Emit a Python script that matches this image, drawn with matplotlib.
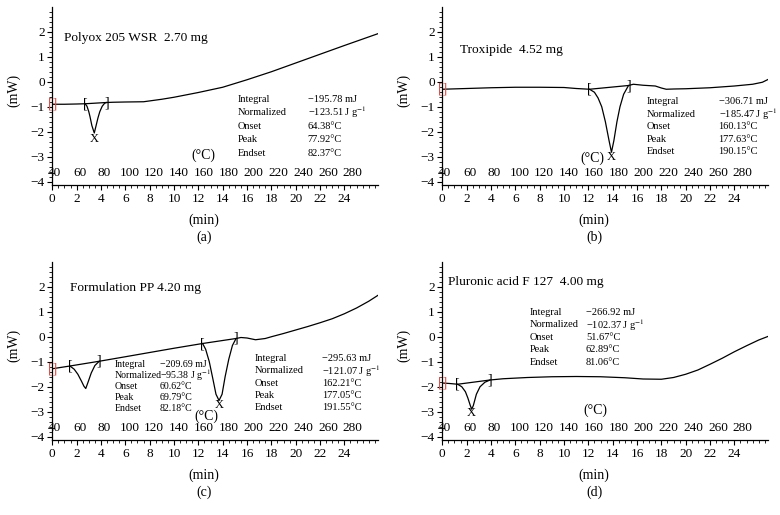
import matplotlib
matplotlib.use("Agg")
import matplotlib.pyplot as plt
from matplotlib.ticker import MultipleLocator

plt.rcParams['font.family'] = ['Liberation Serif', 'DejaVu Serif']
plt.rcParams['mathtext.fontset'] = 'stix'

# ---------------- data ----------------
time_a = [0, 1, 2, 2.7, 2.85, 3.0, 3.1, 3.25, 3.45, 3.6, 3.75, 3.9, 4.1, 4.3, 4.45, 5, 6, 7.5,
          9, 10, 12, 14, 16, 18, 20, 22, 24, 26.8]
mw_a = [-0.9, -0.9, -0.89, -0.88, -0.98, -1.2, -1.4, -1.75, -2.05, -1.75, -1.45, -1.2, -0.98,
        -0.86, -0.83, -0.82, -0.81, -0.8, -0.7, -0.62, -0.43, -0.22, 0.08, 0.4, 0.75, 1.1, 1.45, 1.93]

time_b = [0, 2, 4, 6, 8, 10, 11, 12.1, 12.5, 12.8, 13.1, 13.4, 13.7, 13.9, 14.1, 14.35, 14.6,
          14.9, 15.3, 15.7, 16.5, 17.5, 18.0, 18.4, 19, 20, 22, 24, 25.5, 26.3, 26.8]
mw_b = [-0.3, -0.27, -0.24, -0.22, -0.22, -0.23, -0.27, -0.3, -0.42, -0.65, -1.0, -1.6, -2.35,
        -2.82, -2.35, -1.6, -1.0, -0.5, -0.15, -0.1, -0.14, -0.17, -0.25, -0.3, -0.29, -0.28,
        -0.24, -0.17, -0.1, -0.02, 0.1]

time_c = [0, 1.45, 1.8, 2.1, 2.4, 2.6, 2.75, 2.95, 3.2, 3.5, 3.86, 6, 8, 10, 12.35, 12.6, 12.9,
          13.2, 13.45, 13.7, 13.95, 14.2, 14.5, 14.8, 15.1, 15.5, 16.0, 16.7, 17.5, 18, 19, 20,
          21, 22, 23, 24, 25, 26, 26.8]
mw_c = [-1.28, -1.17, -1.3, -1.5, -1.78, -1.98, -2.07, -1.8, -1.45, -1.15, -0.98, -0.8, -0.63,
        -0.46, -0.27, -0.5, -1.0, -1.7, -2.3, -2.55, -2.3, -1.6, -0.9, -0.35, -0.07, -0.03, -0.05,
        -0.12, -0.07, 0.0, 0.13, 0.27, 0.41, 0.56, 0.72, 0.92, 1.15, 1.42, 1.67]

time_d = [0, 0.6, 1.26, 1.6, 1.9, 2.1, 2.3, 2.42, 2.55, 2.8, 3.1, 3.5, 3.92, 5, 7, 9, 11, 13, 15,
          16.5, 18, 19, 20, 21, 22, 23, 24, 25, 26, 26.8]
mw_d = [-1.85, -1.87, -1.9, -2.0, -2.2, -2.45, -2.75, -2.9, -2.75, -2.3, -2.0, -1.82, -1.73,
        -1.68, -1.63, -1.6, -1.59, -1.6, -1.64, -1.69, -1.7, -1.63, -1.5, -1.33, -1.1, -0.86,
        -0.6, -0.36, -0.13, 0.02]

# integration baselines: [start, end] (min) and (mW)
base_a_t = [[2.7, 4.45]]
base_a_y = [[-0.88, -0.83]]
base_b_t = [[12.1, 15.3]]
base_b_y = [[-0.3, -0.15]]
base_c_t = [[1.45, 3.86], [12.35, 15.1]]
base_c_y = [[-1.17, -0.98], [-0.27, -0.07]]
base_d_t = [[1.26, 3.92]]
base_d_y = [[-1.9, -1.73]]

# peak markers (min, mW)
peak_a = [(3.45, -2.27)]
peak_b = [(13.9, -3.0)]
peak_c = [(13.75, -2.72)]
peak_d = [(2.4, -3.07)]

titles = ["Polyox 205 WSR  2.70 mg", "Troxipide  4.52 mg",
          "Formulation PP 4.20 mg", "Pluronic acid F 127  4.00 mg"]
panel_labels = ["(a)", "(b)", "(c)", "(d)"]

row_names = ["Integral", "Normalized", "Onset", "Peak", "Endset"]
vals_a = ["\u2212195.78 mJ", "\u2212123.51 J g$^{-1}$", "64.38\u00b0C", "77.92\u00b0C", "82.37\u00b0C"]
vals_b = ["\u2212306.71 mJ", "\u2212185.47 J g$^{-1}$", "160.13\u00b0C", "177.63\u00b0C", "190.15\u00b0C"]
vals_c1 = ["\u2212209.69 mJ", "\u221295.38 J g$^{-1}$", "60.62\u00b0C", "69.79\u00b0C", "82.18\u00b0C"]
vals_c2 = ["\u2212295.63 mJ", "\u2212121.07 J g$^{-1}$", "162.21\u00b0C", "177.05\u00b0C", "191.55\u00b0C"]
vals_d = ["\u2212266.92 mJ", "\u2212102.37 J g$^{-1}$", "51.67\u00b0C", "62.89\u00b0C", "81.06\u00b0C"]

temp_labels = [40, 60, 80, 100, 120, 140, 160, 180, 200, 220, 240, 260, 280]
min_ticks = [0, 2, 4, 6, 8, 10, 12, 14, 16, 18, 20, 22, 24]
mw_ticks = [-4, -3, -2, -1, 0, 1, 2]

# ---------------- layout ----------------
W, H = 780, 515
fig = plt.figure(figsize=(W / 100, H / 100), dpi=100)

panels = [
    dict(t=time_a, y=mw_a, bt=base_a_t, by=base_a_y, pk=peak_a, left=52.3, top=7,
         title_xy=(1.0, 1.74),
         tables=[(vals_a, 15.2, 21.0, -0.69, 0.545, 7.5)], degc=(12.4, -2.93)),
    dict(t=time_b, y=mw_b, bt=base_b_t, by=base_b_y, pk=peak_b, left=442.3, top=7,
         title_xy=(1.45, 1.27),
         tables=[(vals_b, 16.8, 22.7, -0.8, 0.5, 7.5)], degc=(12.35, -3.05)),
    dict(t=time_c, y=mw_c, bt=base_c_t, by=base_c_y, pk=peak_c, left=52.3, top=262,
         title_xy=(1.45, 1.94),
         tables=[(vals_c1, 5.15, 8.85, -1.1, 0.44, 7.1), (vals_c2, 16.65, 22.2, -0.87, 0.49, 7.5)],
         degc=(12.7, -3.2)),
    dict(t=time_d, y=mw_d, bt=base_d_t, by=base_d_y, pk=peak_d, left=442.3, top=262,
         title_xy=(0.5, 2.2),
         tables=[(vals_d, 7.2, 11.8, 0.98, 0.5, 7.5)], degc=(12.6, -2.93)),
]

ax_w_px = 325.7
ax_h_px = 178
px_per_min = 12.17
xmax = ax_w_px / px_per_min
ylo, yhi = -4.13, 2.99

for i, p in enumerate(panels):
    ax = fig.add_axes([p['left'] / W, 1 - (p['top'] + ax_h_px) / H, ax_w_px / W, ax_h_px / H])
    ax.plot(p['t'], p['y'], color='black', lw=0.9)
    for bt, by in zip(p['bt'], p['by']):
        ax.plot(bt, by, color='black', lw=0.9)
        ax.text(bt[0], by[0], "[", ha='center', va='center', fontsize=10)
        ax.text(bt[1], by[1], "]", ha='center', va='center', fontsize=10)
    for (px, py) in p['pk']:
        ax.text(px, py, "X", ha='center', va='center', fontsize=9)
    # red start bracket
    ax.text(0, p['y'][0], "[]", ha='center', va='center', fontsize=10, color='#e0504a',
            clip_on=False)

    ax.set_xlim(0, xmax)
    ax.set_ylim(ylo, yhi)
    for s in ['top', 'right']:
        ax.spines[s].set_visible(False)
    ax.spines['left'].set_linewidth(0.9)
    ax.spines['bottom'].set_linewidth(0.9)
    ax.set_xticks(min_ticks)
    ax.set_yticks(mw_ticks)
    ax.xaxis.set_minor_locator(MultipleLocator(0.5))
    ax.yaxis.set_minor_locator(MultipleLocator(0.2))
    ax.tick_params(which='major', direction='out', length=3.5, width=0.8, labelsize=9.5, pad=2)
    ax.tick_params(which='minor', direction='out', length=2, width=0.6)

    # temperature labels inside axes
    for T in temp_labels:
        ax.text((T - 38) / 9.8, -3.66, str(T), ha='center', va='center', fontsize=9.5)

    ax.text(p['title_xy'][0], p['title_xy'][1], titles[i], ha='left', va='center', fontsize=9.6)
    for vals, xl, xv, y0, dy, fs in p['tables']:
        for k, (nm, v) in enumerate(zip(row_names, vals)):
            ax.text(xl, y0 - k * dy, nm, ha='left', va='center', fontsize=fs)
            ax.text(xv, y0 - k * dy, v, ha='left', va='center', fontsize=fs)
    ax.text(p['degc'][0], p['degc'][1], "(\u00b0C)", ha='center', va='center', fontsize=10)

    # axis labels
    cx = p['left'] + 152
    fig.text(cx / W, 1 - (p['top'] + 213) / H, "(min)", ha='center', va='center', fontsize=10)
    fig.text(cx / W, 1 - (p['top'] + 230) / H, panel_labels[i], ha='center', va='center',
             fontsize=10)
    fig.text((p['left'] - 39) / W, 1 - (p['top'] + 83) / H, "(mW)", ha='center', va='center',
             rotation=90, fontsize=10)

fig.savefig("out.png", dpi=100)
